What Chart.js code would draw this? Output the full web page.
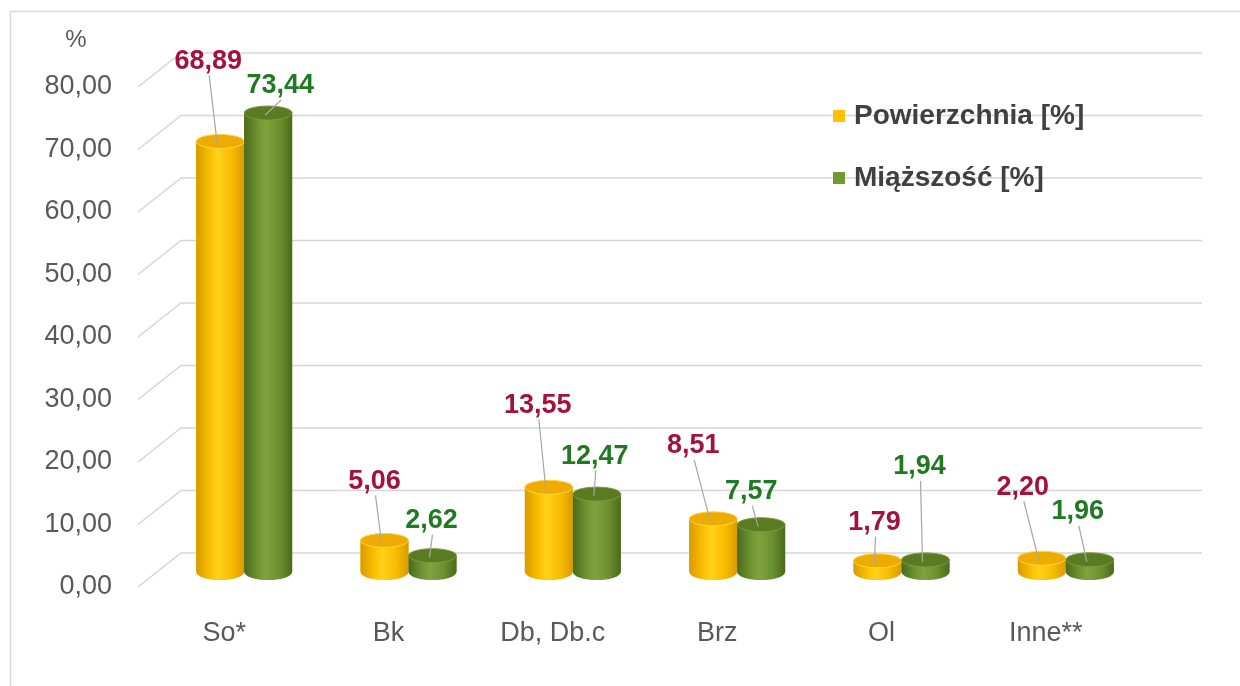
<!DOCTYPE html>
<html>
<head>
<meta charset="utf-8">
<script src="https://cdn.jsdelivr.net/npm/chart.js@4.4.1/dist/chart.umd.min.js"></script>
<style>
  html, body { margin: 0; padding: 0; background: #fff; }
  #wrap { width: 1240px; height: 686px; }
</style>
</head>
<body>
<div id="wrap"><canvas id="chart"></canvas></div>
<script>
const categories = ['So*', 'Bk', 'Db, Db.c', 'Brz', 'Ol', 'Inne**'];
const powierzchnia = [68.89, 5.06, 13.55, 8.51, 1.79, 2.20];
const miazszosc = [73.44, 2.62, 12.47, 7.57, 1.94, 1.96];
const yTicks = [0, 10, 20, 30, 40, 50, 60, 70, 80];

const FONT = '"Liberation Sans", Arial, sans-serif';

function fmt(v) {
    return v.toFixed(2).replace('.', ',');
}

// frame + back wall grid with the little perspective diagonals
const backGrid = {
    id: 'backGrid',
    beforeDraw(chart) {
        const ctx = chart.ctx;
        ctx.save();
        ctx.fillStyle = '#fff';
        ctx.fillRect(0, 0, chart.width, chart.height);
        ctx.strokeStyle = '#d9d9d9';
        ctx.lineWidth = 1.5;
        ctx.beginPath();
        ctx.moveTo(10.5, chart.height);
        ctx.lineTo(10.5, 11.5);
        ctx.lineTo(chart.width, 11.5);
        ctx.stroke();
        ctx.fillStyle = '#595959';
        ctx.font = '24px ' + FONT;
        ctx.textAlign = 'center';
        ctx.textBaseline = 'middle';
        ctx.fillText('%', 76, 40);
        ctx.restore();
    },
    beforeDatasetsDraw(chart) {
        const ctx = chart.ctx;
        const y = chart.scales.y;
        ctx.save();
        ctx.strokeStyle = '#d6d6d6';
        ctx.lineWidth = 1.5;
        yTicks.forEach(v => {
            const p = y.getPixelForValue(v);
            ctx.beginPath();
            ctx.moveTo(138, p + 15);
            ctx.lineTo(181, p - 19);
            ctx.lineTo(1202, p - 19);
            ctx.stroke();
        });
        ctx.restore();
    }
};

const cylinders = {
    id: 'cylinders',
    afterDatasetsDraw(chart) {
        const ctx = chart.ctx;
        chart.data.datasets.forEach((ds, di) => {
            const meta = chart.getDatasetMeta(di);
            const s = ds.shade;
            meta.data.forEach(bar => {
                const w = bar.width, left = bar.x - w / 2, top = bar.y, base = bar.base;
                const rx = w / 2;
                const g = ctx.createLinearGradient(left, 0, left + w, 0);
                g.addColorStop(0, s.edge);
                g.addColorStop(0.25, s.mid);
                g.addColorStop(0.45, s.light);
                g.addColorStop(0.75, s.mid);
                g.addColorStop(1, s.edge);
                ctx.save();
                ctx.fillStyle = g;
                ctx.beginPath();
                ctx.moveTo(left, top);
                ctx.lineTo(left, base);
                ctx.ellipse(bar.x, base, rx, 8, 0, Math.PI, 0, true);
                ctx.lineTo(left + w, top);
                ctx.closePath();
                ctx.fill();
                ctx.beginPath();
                ctx.ellipse(bar.x, top, rx, 7, 0, 0, Math.PI * 2);
                ctx.fillStyle = s.top;
                ctx.fill();
                ctx.strokeStyle = s.rim;
                ctx.lineWidth = 1;
                ctx.stroke();
                ctx.restore();
            });
        });
    }
};

const valueLabels = {
    id: 'valueLabels',
    afterDatasetsDraw(chart, args, opts) {
        const ctx = chart.ctx;
        chart.data.datasets.forEach((ds, di) => {
            const meta = chart.getDatasetMeta(di);
            const shifts = opts.shift[di];
            meta.data.forEach((bar, i) => {
                const lx = bar.x + shifts[i][0];
                const ly = bar.y + shifts[i][1];
                ctx.save();
                if (bar.y - (ly + 14) > 4) {
                    ctx.strokeStyle = '#a6a6a6';
                    ctx.lineWidth = 1.2;
                    ctx.beginPath();
                    ctx.moveTo(lx + 1, ly + 14);
                    ctx.lineTo(bar.x - 3, bar.y + 2);
                    ctx.stroke();
                }
                ctx.fillStyle = ds.labelColor;
                ctx.font = 'bold 27px ' + FONT;
                ctx.textAlign = 'center';
                ctx.textBaseline = 'middle';
                ctx.fillText(fmt(ds.data[i]), lx, ly);
                ctx.restore();
            });
        });
    }
};

const innerLegend = {
    id: 'innerLegend',
    afterDraw(chart) {
        const ctx = chart.ctx;
        const rows = [116, 178];
        ctx.save();
        chart.data.datasets.forEach((ds, di) => {
            const yy = rows[di];
            ctx.fillStyle = ds.backgroundColor;
            ctx.fillRect(833, yy - 6, 12, 12);
            ctx.fillStyle = '#404040';
            ctx.font = 'bold 28px ' + FONT;
            ctx.textAlign = 'left';
            ctx.textBaseline = 'middle';
            ctx.fillText(ds.label, 854, yy);
        });
        ctx.restore();
    }
};

const ctx = document.getElementById('chart').getContext('2d');
new Chart(ctx, {
    type: 'bar',
    data: {
        labels: categories,
        datasets: [{
            label: 'Powierzchnia [%]',
            data: powierzchnia,
            backgroundColor: '#ffc000',
            labelColor: '#a3123c',
            shade: { edge: '#d99a00', mid: '#f7bb00', light: '#ffd21a', top: '#eeac00', rim: '#ffd54a' }
        }, {
            label: 'Miąższość [%]',
            data: miazszosc,
            backgroundColor: '#6e9a34',
            labelColor: '#1f7a22',
            shade: { edge: '#4b6a1c', mid: '#6a8f2e', light: '#7fa43e', top: '#5a7b22', rim: '#7a9c3c' }
        }]
    },
    options: {
        responsive: true,
        maintainAspectRatio: false,
        animation: false,
        layout: {
            padding: { top: 72, right: 92, left: 0, bottom: 0 }
        },
        datasets: {
            bar: {
                categoryPercentage: 0.584,
                barPercentage: 1
            }
        },
        scales: {
            x: {
                grid: { display: false, drawTicks: false },
                border: { display: false },
                ticks: {
                    color: '#595959',
                    font: { size: 27, family: FONT },
                    padding: 45,
                    labelOffset: -20
                },
                afterFit(scale) { scale.height = 114; }
            },
            y: {
                min: 0,
                max: 80,
                grid: { display: false, drawTicks: false },
                border: { display: false },
                ticks: {
                    stepSize: 10,
                    color: '#595959',
                    font: { size: 27, family: FONT },
                    padding: 50,
                    labelOffset: 15,
                    callback: v => fmt(v)
                },
                afterFit(scale) { scale.width = 162; }
            }
        },
        plugins: {
            legend: { display: false },
            tooltip: { enabled: false },
            valueLabels: {
                shift: [
                    [[-12, -80], [-10, -59], [-11, -82], [-20, -73], [-3, -38], [-19, -71]],
                    [[12, -27], [-1, -35], [-2, -38], [-10, -33], [-6, -93], [-12, -48]]
                ]
            }
        }
    },
    plugins: [backGrid, cylinders, valueLabels, innerLegend]
});
</script>
</body>
</html>
